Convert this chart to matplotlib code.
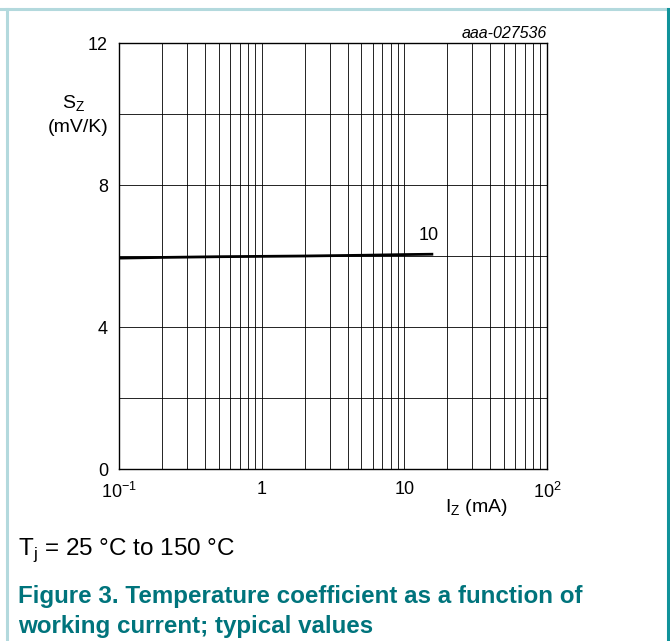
import matplotlib
matplotlib.use("Agg")
import matplotlib.pyplot as plt
from matplotlib.lines import Line2D
import numpy as np

plt.rcParams['font.family'] = ['Liberation Sans', 'DejaVu Sans']
plt.rcParams['axes.unicode_minus'] = False

# typical curve
iz_ma = [0.1, 0.2, 0.5, 1, 2, 5, 10, 15.6]
sz_mvk = [5.94, 5.96, 5.98, 5.99, 6.0, 6.02, 6.04, 6.05]
curve_label = "10"
x_ticks = [0.1, 1, 10, 100]
x_ticklabels = ["$\\mathregular{10^{-1}}$", "1", "10", "$\\mathregular{10^{2}}$"]
y_ticks = [0, 4, 8, 12]

W, H = 670, 641
fig = plt.figure(figsize=(W / 100, H / 100), dpi=100)

ax = fig.add_axes([119 / W, 1 - 469 / H, 428 / W, 426 / H])
ax.set_xscale("log")
ax.set_xlim(0.1, 100)
ax.set_ylim(0, 12)

# grid: every minor decade line, every 2 mV/K
for dec in [0.1, 1, 10]:
    for m in range(2, 10):
        ax.axvline(dec * m, color="black", lw=0.6, zorder=1)
for v in [1, 10]:
    ax.axvline(v, color="black", lw=0.6, zorder=1)
for h in range(2, 12, 2):
    ax.axhline(h, color="black", lw=0.6, zorder=1)

ax.plot(iz_ma, sz_mvk, color="black", lw=2.0, zorder=3)
ax.text(iz_ma[-1] * 0.95, sz_mvk[-1] + 0.3, curve_label, fontsize=13,
        ha="center", va="bottom")

ax.set_xticks(x_ticks)
ax.set_xticklabels(x_ticklabels, fontsize=13)
ax.set_yticks(y_ticks)
ax.set_yticklabels([str(t) for t in y_ticks], fontsize=13)
ax.xaxis.set_minor_locator(matplotlib.ticker.NullLocator())
ax.tick_params(axis="y", length=0, pad=8)
ax.tick_params(axis="x", length=0, pad=9)
for s in ax.spines.values():
    s.set_linewidth(1.0)

fig.text(547 / W, 1 - 33 / H, "aaa-027536", fontsize=11.5, style="italic",
         ha="right", va="center")
fig.text(74 / W, 1 - 104 / H, "S$_\\mathregular{Z}$", fontsize=14,
         ha="center", va="center")
fig.text(78 / W, 1 - 127 / H, "(mV/K)", fontsize=14, ha="center", va="center")
fig.text(476 / W, 1 - 508 / H, "I$_\\mathregular{Z}$ (mA)", fontsize=14,
         ha="center", va="center")

fig.text(18 / W, 1 - 550 / H, "T$_\\mathregular{j}$ = 25 °C to 150 °C",
         fontsize=17.5, ha="left", va="center")
teal = "#00747c"
fig.text(18 / W, 1 - 596 / H, "Figure 3. Temperature coefficient as a function of",
         fontsize=17.4, fontweight="bold", color=teal, ha="left", va="center")
fig.text(18 / W, 1 - 627 / H, "working current; typical values",
         fontsize=17.4, fontweight="bold", color=teal, ha="left", va="center")

# frame around the figure
light = "#b3d9dd"
fig.add_artist(Line2D([0, 667 / W], [1 - 9 / H] * 2, color=light, lw=2.2))
fig.add_artist(Line2D([7 / W] * 2, [0, 1 - 9 / H], color=light, lw=2.2))
fig.add_artist(Line2D([668 / W] * 2, [0, 1 - 9 / H], color="#10939b", lw=2.2))

fig.savefig("out.png", dpi=100)
